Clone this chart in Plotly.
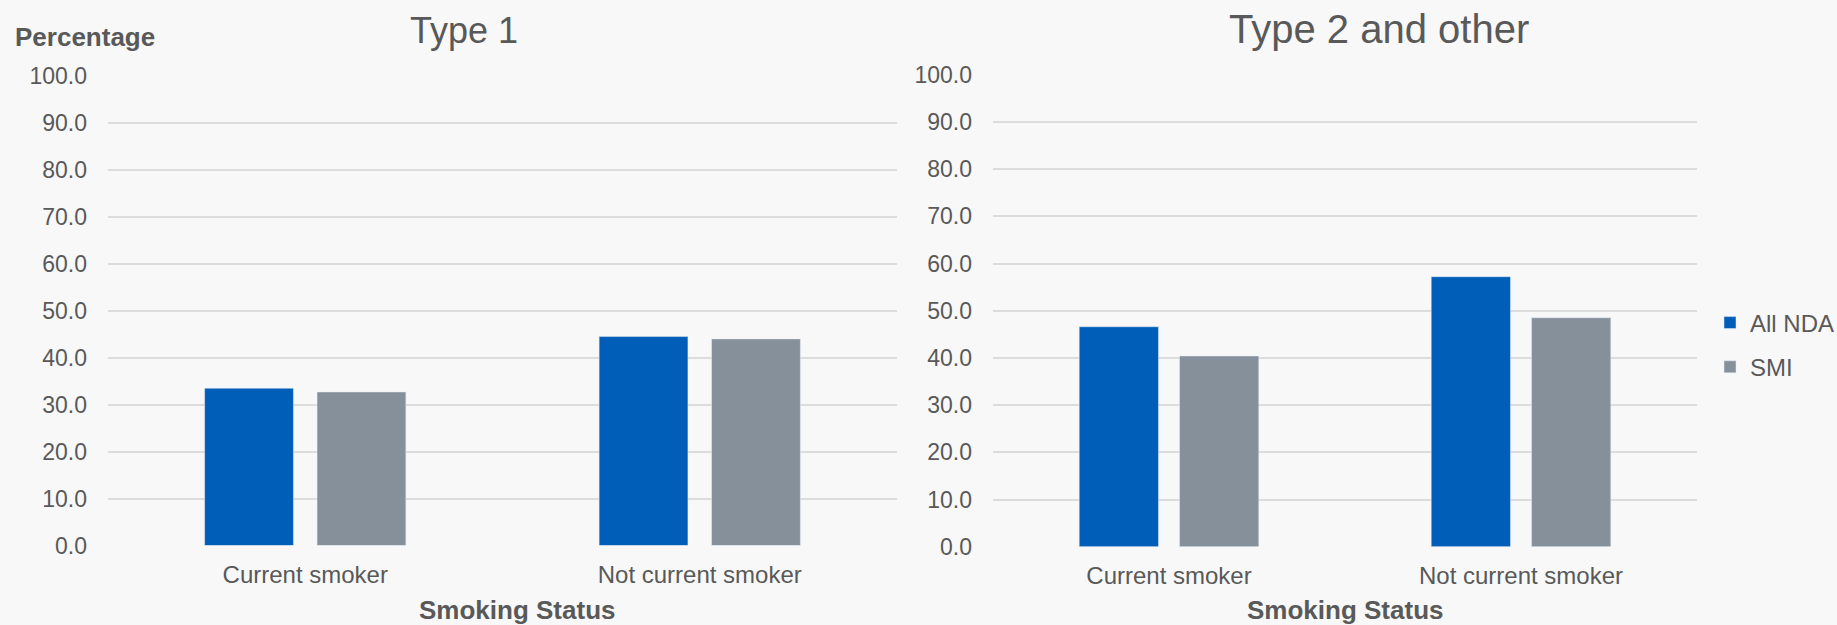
import plotly.graph_objects as go

categories = ["Current smoker", "Not current smoker"]
type1_all_nda = [33.5, 44.5]
type1_smi = [32.7, 44.0]
type2_all_nda = [46.6, 57.2]
type2_smi = [40.4, 48.5]
series_names = ["All NDA", "SMI"]
y_ticks = [0, 10, 20, 30, 40, 50, 60, 70, 80, 90, 100]
y_tick_labels = [f"{v:.1f}" for v in y_ticks]

BLUE = "#005EB8"
GREY = "#86909B"
TXT = "#595959"
GRID = "#DCDCDC"
BG = "#F8F8F8"
FONT = "Liberation Sans, Arial, sans-serif"

W, H = 1837, 625

fig = go.Figure()
fig.add_trace(go.Bar(x=categories, y=type1_all_nda, name=series_names[0], marker_color=BLUE,
                     xaxis="x", yaxis="y", showlegend=True, legendgroup="a"))
fig.add_trace(go.Bar(x=categories, y=type1_smi, name=series_names[1], marker_color=GREY,
                     xaxis="x", yaxis="y", showlegend=True, legendgroup="b"))
fig.add_trace(go.Bar(x=categories, y=type2_all_nda, name=series_names[0], marker_color=BLUE,
                     xaxis="x2", yaxis="y2", showlegend=False, legendgroup="a"))
fig.add_trace(go.Bar(x=categories, y=type2_smi, name=series_names[1], marker_color=GREY,
                     xaxis="x2", yaxis="y2", showlegend=False, legendgroup="b"))

yax = dict(range=[0, 100], tickvals=y_ticks, ticktext=y_tick_labels, showgrid=True,
           gridcolor=GRID, gridwidth=2, zeroline=False, showline=False, ticks="",
           tickfont=dict(size=23, color=TXT, family=FONT), ticklabelstandoff=20, fixedrange=True,
           automargin=False)
xax = dict(showgrid=False, zeroline=False, showline=False, ticks="",
           tickfont=dict(size=24, color=TXT, family=FONT), ticklabelstandoff=12, automargin=False)

fig.update_layout(
    width=W, height=H,
    margin=dict(l=0, r=0, t=0, b=0, autoexpand=False),
    paper_bgcolor=BG, plot_bgcolor=BG,
    barmode="group", bargap=0.43, bargroupgap=0.21,
    font=dict(family=FONT, color=TXT),
    xaxis=dict(domain=[108 / W, 897 / W], anchor="y", **xax),
    yaxis=dict(domain=[1 - 545.5 / H, 1 - 76 / H], anchor="x", **yax),
    xaxis2=dict(domain=[993 / W, 1697 / W], anchor="y2", **xax),
    yaxis2=dict(domain=[1 - 546.7 / H, 1 - 74.7 / H], anchor="x2", **yax),
    legend=dict(x=1710 / W, y=1 - 345 / H, xanchor="left", yanchor="middle",
                font=dict(size=24, color=TXT, family=FONT), bgcolor="rgba(0,0,0,0)",
                traceorder="grouped", tracegroupgap=10),
    showlegend=True,
)

annotations = [
    dict(text="Type 1", x=464 / W, y=1 - 30 / H, font=dict(size=36)),
    dict(text="Type 2 and other", x=1379 / W, y=1 - 29 / H, font=dict(size=40)),
    dict(text="<b>Percentage</b>", x=85 / W, y=1 - 37 / H, font=dict(size=26)),
    dict(text="<b>Smoking Status</b>", x=517 / W, y=1 - 610 / H, font=dict(size=26)),
    dict(text="<b>Smoking Status</b>", x=1345 / W, y=1 - 610 / H, font=dict(size=26)),
]
for a in annotations:
    a.update(xref="paper", yref="paper", xanchor="center", yanchor="middle", showarrow=False)
    a["font"].update(color=TXT, family=FONT)
fig.update_layout(annotations=annotations)

fig.write_html("out.html")
